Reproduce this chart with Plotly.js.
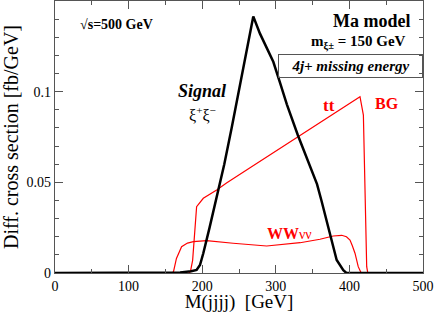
<!DOCTYPE html>
<html><head><meta charset="utf-8">
<script src="https://cdn.plot.ly/plotly-3.0.1.min.js"></script>
<style>body{margin:0;background:#fff}#g{width:436px;height:313px}</style>
</head><body><div id="g"></div>
<script>
const sigM = [0, 150, 170, 185, 192.4, 197, 201.5, 210, 220, 230, 240, 250, 260, 265, 269.4, 278.5, 285.3, 296.6, 305.7, 315, 330, 345, 356, 362, 373.6, 382.7, 391.7, 396, 500];
const sigV = [0, 0, 0.0003, 0.001, 0.0017, 0.0044, 0.0109, 0.025, 0.042, 0.060, 0.080, 0.101, 0.122, 0.133, 0.1415, 0.132, 0.1258, 0.1165, 0.105, 0.093, 0.076, 0.061, 0.049, 0.040, 0.0219, 0.0072, 0.0015, 0, 0];
const ttM = [0, 182, 184, 187, 192.4, 197, 201.5, 219.7, 233, 265, 287.6, 315, 337.4, 364.6, 391.7, 414.4, 419, 423.5, 425, 500];
const ttV = [0, 0, 0.0007, 0.007, 0.0366, 0.039, 0.0412, 0.0458, 0.0496, 0.058, 0.0639, 0.0711, 0.0769, 0.0841, 0.0912, 0.0972, 0.0871, 0.0035, 0, 0];
const wwM = [0, 159, 161, 165, 172, 180, 188, 206, 242, 287.6, 333, 360, 378, 389.5, 396, 400.8, 404, 407.6, 412, 416, 500];
const wwV = [0, 0, 0.0007, 0.008, 0.0145, 0.0165, 0.0173, 0.0178, 0.0164, 0.0149, 0.0167, 0.0186, 0.0204, 0.0208, 0.0200, 0.0182, 0.0150, 0.0109, 0.0035, 0, 0];
const xTicks = [0, 100, 200, 300, 400, 500];
const yTicks = [0, 0.05, 0.1];
const yTickText = ['0', '0.05', '0.1'];

const serif = 'Liberation Serif, Times New Roman, serif';
const data = [
  {x: ttM, y: ttV, mode: 'lines', line: {color: '#ff0000', width: 1.2}, hoverinfo: 'none'},
  {x: wwM, y: wwV, mode: 'lines', line: {color: '#ff0000', width: 1.2}, hoverinfo: 'none'},
  {x: sigM, y: sigV, mode: 'lines', line: {color: '#000000', width: 2.5}, hoverinfo: 'none'}
];
const axisCommon = {
  showgrid: false, zeroline: false, showline: true, linecolor: '#555', linewidth: 1.2,
  mirror: 'allticks', ticks: 'inside', ticklen: 8, tickcolor: '#555', tickwidth: 1,
  tickfont: {family: serif, size: 14, color: '#000'}
};
const layout = {
  width: 436, height: 313,
  margin: {l: 55, r: 13, t: 1, b: 40},
  paper_bgcolor: '#fff', plot_bgcolor: '#fff',
  showlegend: false,
  xaxis: Object.assign({}, axisCommon, {
    range: [0, 500], tickvals: xTicks,
    minor: {dtick: 50, ticks: 'inside', ticklen: 4, tickcolor: '#555'},
    title: {text: 'M(jjjj)  [GeV]', font: {family: serif, size: 19, color: '#000'}, standoff: 3}
  }),
  yaxis: Object.assign({}, axisCommon, {
    range: [0, 0.15], tickvals: yTicks, ticktext: yTickText,
    minor: {dtick: 0.01, ticks: 'inside', ticklen: 4, tickcolor: '#555'},
    title: {text: 'Diff. cross section [fb/GeV]', font: {family: serif, size: 20, color: '#000'}, standoff: 3}
  }),
  annotations: [
    {x: 116, y: 24, text: '<b>√s=500 GeV</b>', font: {size: 14, color: '#000'}},
    {x: 371, y: 21, text: '<b>Ma model</b>', font: {size: 18, color: '#000'}},
    {x: 358, y: 42, text: '<b>m<sub>ξ±</sub> = 150 GeV</b>', font: {size: 15, color: '#000'}},
    {x: 350.5, y: 65.5, text: '<b><i>4j+ missing energy</i></b>', font: {size: 15, color: '#000'}, bordercolor: '#555', borderwidth: 1, borderpad: 3, width: 137},
    {x: 202, y: 91, text: '<b><i>Signal</i></b>', font: {size: 18, color: '#000'}},
    {x: 202, y: 114, text: 'ξ<sup>+</sup>ξ<sup>−</sup>', font: {size: 16, color: '#000'}},
    {x: 329, y: 106, text: '<b>tt</b>', font: {size: 17, color: '#ff0000'}},
    {x: 387, y: 103, text: '<b>BG</b>', font: {size: 16, color: '#ff0000'}},
    {x: 289, y: 233, text: '<b>WW</b><span style="font-size:14px">νν</span>', font: {size: 16, color: '#ff0000'}}
  ]
};
// convert pixel-positioned annotations to paper coords
const L = 55, R = 423, T = 1, B = 273;
layout.annotations.forEach(a => {
  a.xref = 'paper'; a.yref = 'paper';
  a.x = (a.x - L) / (R - L);
  a.y = (B - a.y) / (B - T);
  a.xanchor = 'center'; a.yanchor = 'middle'; a.showarrow = false;
  a.font.family = serif;
});
Plotly.newPlot('g', data, layout, {staticPlot: true});
</script></body></html>
